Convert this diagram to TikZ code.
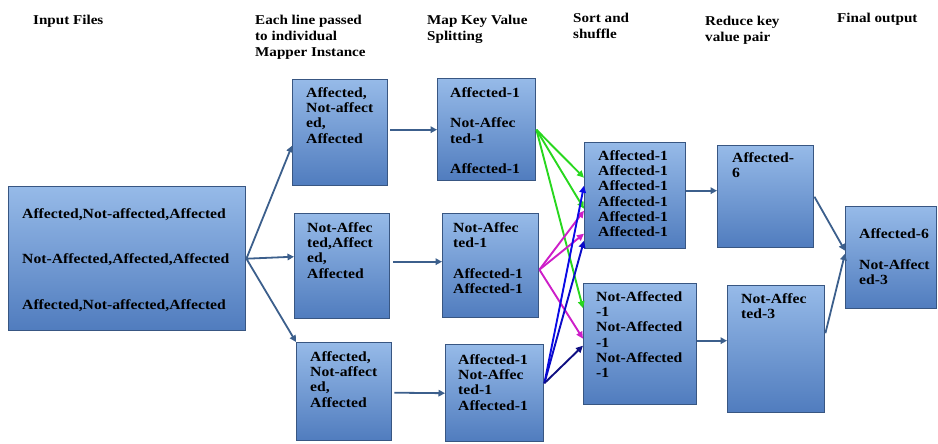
\documentclass[tikz,border=0pt]{standalone}
\usepackage{fontspec}
\setmainfont{Liberation Serif}[FakeStretch=1.12]
\usetikzlibrary{arrows.meta,calc}
\definecolor{boxtop}{RGB}{150,186,232}
\definecolor{boxbot}{RGB}{80,124,190}
\definecolor{boxline}{RGB}{56,86,130}
\definecolor{flow}{RGB}{60,95,140}
\definecolor{grn}{RGB}{40,215,30}
\definecolor{mag}{RGB}{205,30,200}
\definecolor{blu}{RGB}{10,10,230}
\definecolor{nvy}{RGB}{15,15,130}

\begin{document}
\begin{tikzpicture}[x=1pt,y=-1pt,
  stage/.style={draw=boxline, line width=1.4pt, top color=boxtop, bottom color=boxbot,
    anchor=north west, inner sep=0pt},
  boxtext/.style={anchor=north west, inner sep=0pt, align=left,
    font=\bfseries\fontsize{14}{15.2}\selectfont},
  head/.style={anchor=north west, inner sep=0pt, align=left,
    font=\bfseries\fontsize{13.5}{16}\selectfont},
  flowarrow/.style={draw=flow, line width=1.8pt, -{Triangle[length=6.5pt,width=6.5pt]}},
  keyarrow/.style={line width=1.9pt, -{Triangle[length=7pt,width=6.5pt]}},
]
\useasboundingbox (0,0) rectangle (938,444);

% column headings
\node[head] (h1) at (33,15) {Input Files};
\node[head] (h2) at (255,14.5) {Each line passed\\to individual\\Mapper Instance};
\node[head] (h3) at (427,14.5) {Map Key Value\\Splitting};
\node[head] (h4) at (573,13) {Sort and\\shuffle};
\node[head] (h5) at (705,16) {Reduce key\\value pair};
\node[head] (h6) at (837,13) {Final output};

% stage boxes
\node[stage, minimum width=237pt, minimum height=144pt] (in) at (8,186) {};
\node[stage, minimum width=95pt, minimum height=106pt] (m1) at (292,79) {};
\node[stage, minimum width=95pt, minimum height=105pt] (m2) at (294,213) {};
\node[stage, minimum width=95pt, minimum height=98pt] (m3) at (296,342) {};
\node[stage, minimum width=98pt, minimum height=102pt] (k1) at (437,78) {};
\node[stage, minimum width=96pt, minimum height=104pt] (k2) at (442,213) {};
\node[stage, minimum width=98pt, minimum height=97pt] (k3) at (445,344) {};
\node[stage, minimum width=101pt, minimum height=106pt] (s1) at (584,142) {};
\node[stage, minimum width=113pt, minimum height=121pt] (s2) at (583,283) {};
\node[stage, minimum width=96pt, minimum height=102pt] (r1) at (717,145) {};
\node[stage, minimum width=97pt, minimum height=127pt] (r2) at (727,285) {};
\node[stage, minimum width=91pt, minimum height=102pt] (f) at (845,206) {};

% box contents
\node[boxtext] (tin) at (22,208.4) {Affected,Not-affected,Affected\\[30.3pt]Not-Affected,Affected,Affected\\[30.3pt]Affected,Not-affected,Affected};
\node[boxtext] (tm1) at (306,87.4) {Affected,\\Not-affect\\ed,\\Affected};
\node[boxtext] (tm2) at (307,222.4) {Not-Affec\\ted,Affect\\ed,\\Affected};
\node[boxtext] (tm3) at (310,351.4) {Affected,\\Not-affect\\ed,\\Affected};
\node[boxtext] (tk1) at (450,87.4) {Affected-1\\[15.2pt]Not-Affec\\ted-1\\[15.2pt]Affected-1};
\node[boxtext] (tk2) at (453,222.4) {Not-Affec\\ted-1\\[15.2pt]Affected-1\\Affected-1};
\node[boxtext] (tk3) at (458,354.4) {Affected-1\\Not-Affec\\ted-1\\Affected-1};
\node[boxtext] (ts1) at (598,150.4) {Affected-1\\Affected-1\\Affected-1\\Affected-1\\Affected-1\\Affected-1};
\node[boxtext] (ts2) at (596,291.4) {Not-Affected\\-1\\Not-Affected\\-1\\Not-Affected\\-1};
\node[boxtext] (tr1) at (732,152.4) {Affected-\\6};
\node[boxtext] (tr2) at (741,293.4) {Not-Affec\\ted-3};
\node[boxtext] (tf) at (859,228.4) {Affected-6\\[15.8pt]Not-Affect\\ed-3};

% input lines to mappers
\draw[flowarrow] (in.east) -- ([yshift=-13pt]m1.west);
\draw[flowarrow] (in.east) -- ([yshift=9.5pt]m2.west);
\draw[flowarrow] (in.east) -- (m3.north west);

% mappers to key/value splitting
\draw[flowarrow] ([xshift=2pt,yshift=3pt]m1.east) -- (k1.west);
\draw[flowarrow] ([xshift=3pt,yshift=4.5pt]m2.east) -- ([yshift=4pt]k2.west);
\draw[flowarrow] ([xshift=2pt,yshift=-1pt]m3.east) -- (k3.west);

% shuffle of key/value pairs
\draw[keyarrow, grn] (k1.east) -- ([yshift=18pt]s1.west);
\draw[keyarrow, grn] (k1.east) -- ([yshift=-13pt]s1.west);
\draw[keyarrow, grn] (k1.east) -- ([yshift=36pt]s2.west);
\draw[keyarrow, mag] ([yshift=-4pt]k2.east) -- ([yshift=-15pt]s1.west);
\draw[keyarrow, mag] ([yshift=-4pt]k2.east) -- ([yshift=-38pt]s1.west);
\draw[keyarrow, mag] ([yshift=-4pt]k2.east) -- ([yshift=5.5pt]s2.west);
\draw[keyarrow, blu] ([yshift=10pt]k3.east) -- ([yshift=10pt]s1.west);
\draw[keyarrow, blu!70!nvy] ([yshift=10pt]k3.east) -- ([yshift=-45pt]s1.west);
\draw[keyarrow, nvy] ([yshift=10pt]k3.east) -- ([yshift=-1.5pt]s2.west);

% reduce and final output
\draw[flowarrow] ([yshift=5pt]s1.east) -- ([yshift=6pt]r1.west);
\draw[flowarrow] ([yshift=3.5pt]s2.east) -- ([yshift=8.5pt]r2.west);
\draw[flowarrow] (r1.east) -- ([yshift=7pt]f.west);
\draw[flowarrow] ([yshift=16pt]r2.east) -- ([yshift=4pt]f.west);
\end{tikzpicture}
\end{document}
